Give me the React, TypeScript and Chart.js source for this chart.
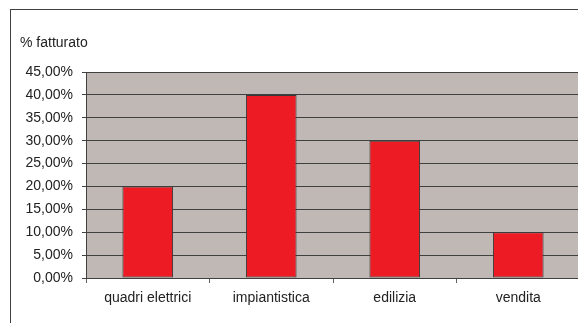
import React, { useEffect, useRef } from "react";
import { Chart, registerables } from "chart.js";

Chart.register(...registerables);

const categories = ["quadri elettrici", "impiantistica", "edilizia", "vendita"];
const values = [0.2, 0.4, 0.3, 0.1];
const axisTitle = "% fatturato";
const yMax = 0.45;
const yStep = 0.05;

const FONT = "'Liberation Sans', Arial, sans-serif";

const decor = {
  id: "decor",
  beforeDraw(chart: any) {
    const { ctx, chartArea } = chart;
    ctx.save();
    ctx.fillStyle = "#ffffff";
    ctx.fillRect(0, 0, chart.width, chart.height);
    ctx.fillStyle = "#c0b8b5";
    ctx.fillRect(chartArea.left, chartArea.top, chartArea.right - chartArea.left, chartArea.bottom - chartArea.top);
    ctx.restore();
  },
  afterDraw(chart: any) {
    const { ctx } = chart;
    ctx.save();
    ctx.strokeStyle = "#404040";
    ctx.lineWidth = 1;
    ctx.strokeRect(10.5, 9.5, chart.width, chart.height);
    ctx.fillStyle = "#222222";
    ctx.font = `14px ${FONT}`;
    ctx.textBaseline = "middle";
    ctx.textAlign = "left";
    ctx.fillText(axisTitle, 20, 43);
    ctx.restore();
  },
};

export default function App() {
  const ref = useRef<HTMLCanvasElement>(null);
  useEffect(() => {
    const chart = new Chart(ref.current!, {
      type: "bar",
      data: {
        labels: categories,
        datasets: [
          {
            data: values,
            backgroundColor: "#ed1c24",
            borderColor: "#383838",
            borderWidth: 1,
            borderSkipped: false,
            categoryPercentage: 1,
            barPercentage: 0.41,
          },
        ],
      },
      options: {
        animation: false,
        responsive: false,
        devicePixelRatio: 1,
        layout: { padding: { left: 10, top: 72, right: 20, bottom: 0 } },
        plugins: { legend: { display: false }, tooltip: { enabled: false } },
        scales: {
          x: {
            offset: true,
            grid: {
              offset: true,
              drawOnChartArea: false,
              drawTicks: true,
              tickLength: 5,
              color: "#606060",
            },
            border: { display: true, color: "#404040" },
            ticks: { color: "#222222", font: { family: FONT, size: 14 }, padding: 7, maxRotation: 0 },
            afterFit(scale: any) {
              scale.height = 62;
            },
          },
          y: {
            min: 0,
            max: yMax,
            grid: { color: "#404040", tickLength: 4, lineWidth: 1 },
            border: { display: true, color: "#404040" },
            ticks: {
              stepSize: yStep,
              color: "#222222",
              font: { family: FONT, size: 14 },
              padding: 9,
              callback: (v: any) => (Number(v) * 100).toFixed(2).replace(".", ",") + "%",
            },
            afterFit(scale: any) {
              scale.width = 76;
            },
          },
        },
      },
      plugins: [decor],
    });
    return () => chart.destroy();
  }, []);
  return (
    <div style={{ position: "fixed", left: 0, top: 0, width: 578, height: 323, overflow: "hidden", background: "#fff" }}>
      <canvas ref={ref} width={600} height={340} style={{ display: "block", width: 600, height: 340 }} />
    </div>
  );
}
